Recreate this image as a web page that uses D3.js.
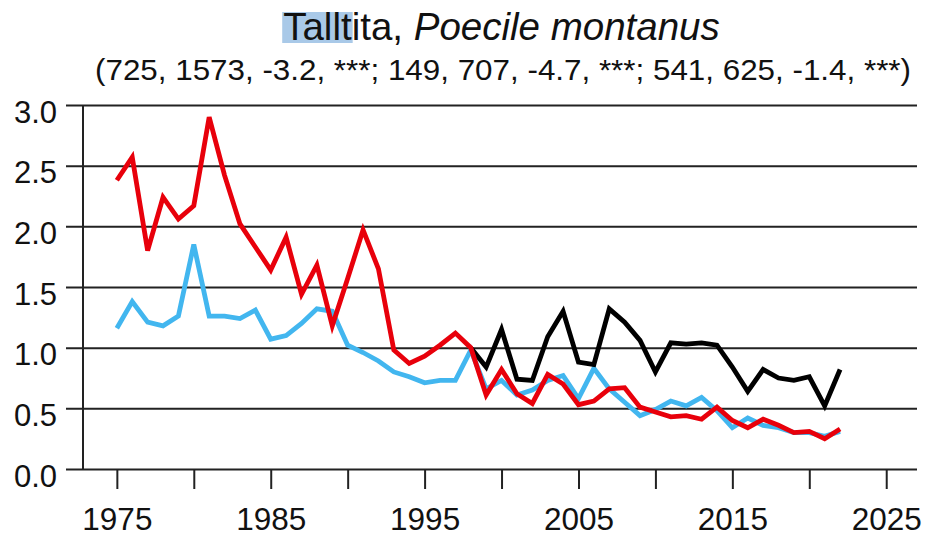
<!DOCTYPE html>
<html>
<head>
<meta charset="utf-8">
<script src="https://cdn.jsdelivr.net/npm/d3@7"></script>
<style>
  body { margin: 0; background: #fff; }
  svg { display: block; font-family: Arial, "Liberation Sans", sans-serif; }
</style>
</head>
<body>
<div id="chart"></div>
<script>
// series values
const years = d3.range(1975, 2023);
const blueValues = [1.16, 1.38, 1.21, 1.18, 1.26, 1.85, 1.26, 1.26, 1.24, 1.31, 1.07, 1.10, 1.20, 1.32, 1.30,
  1.02, 0.96, 0.89, 0.80, 0.76, 0.71, 0.73, 0.73, 0.98, 0.66, 0.73, 0.61, 0.65, 0.73, 0.77, 0.58, 0.83,
  0.66, 0.55, 0.44, 0.49, 0.56, 0.52, 0.59, 0.48, 0.34, 0.42, 0.36, 0.34, 0.30, 0.30, 0.27, 0.31];
const redValues = [2.38, 2.57, 1.80, 2.24, 2.06, 2.17, 2.90, 2.42, 2.02, 1.83, 1.64, 1.91, 1.44, 1.68, 1.18,
  1.57, 1.97, 1.65, 0.98, 0.87, 0.93, 1.02, 1.12, 1.00, 0.61, 0.82, 0.62, 0.54, 0.78, 0.70, 0.53, 0.56,
  0.66, 0.67, 0.51, 0.47, 0.43, 0.44, 0.41, 0.51, 0.40, 0.34, 0.41, 0.36, 0.30, 0.31, 0.25, 0.33];
const blackYears = d3.range(1998, 2023);
const blackValues = [1.00, 0.84, 1.15, 0.74, 0.73, 1.09, 1.30, 0.88, 0.86, 1.32, 1.21, 1.06, 0.80, 1.04,
  1.03, 1.04, 1.02, 0.84, 0.64, 0.82, 0.75, 0.73, 0.76, 0.52, 0.82];

const yTicks = [0, 0.5, 1, 1.5, 2, 2.5, 3];
const xTicks = d3.range(1975, 2030, 5);
const xLabelTicks = [1975, 1985, 1995, 2005, 2015, 2025];

const titleMain = 'Talltita, ';
const titleLatin = 'Poecile montanus';
const subtitle = '(725, 1573, -3.2, ***; 149, 707, -4.7, ***; 541, 625, -1.4, ***)';

const width = 926, height = 537;
const plotLeft = 83, plotRight = 917, plotTop = 105, plotBottom = 469;

const svg = d3.select('#chart').append('svg')
  .attr('width', width)
  .attr('height', height);

const x = d3.scaleLinear().domain([1972.8, 2027]).range([plotLeft, plotRight]);
const y = d3.scaleLinear().domain([0, 3]).range([plotBottom, plotTop]);

// gridlines + y axis (gridlines poke out left as ticks)
const yAxis = d3.axisLeft(y)
  .tickValues(yTicks)
  .tickSize(-(plotRight - plotLeft))
  .tickFormat(d3.format('.1f'));

const yg = svg.append('g')
  .attr('transform', `translate(${plotLeft},0)`)
  .call(yAxis);
yg.select('.domain').remove();
yg.selectAll('.tick line')
  .attr('x1', -17)
  .attr('stroke', '#222')
  .attr('stroke-width', 2);
yg.selectAll('.tick text')
  .attr('x', -26)
  .attr('dy', '0.55em')
  .attr('fill', '#111')
  .style('font-size', '31px');

svg.append('line')
  .attr('x1', plotLeft).attr('x2', plotLeft)
  .attr('y1', y(3)).attr('y2', y(0))
  .attr('stroke', '#222')
  .attr('stroke-width', 2);

// x axis
const xAxis = d3.axisBottom(x)
  .tickValues(xTicks)
  .tickSize(20)
  .tickPadding(19)
  .tickFormat(d => xLabelTicks.includes(d) ? d : '');

const xg = svg.append('g')
  .attr('transform', `translate(0,${plotBottom})`)
  .call(xAxis);
xg.select('.domain').remove();
xg.selectAll('.tick line')
  .attr('stroke', '#222')
  .attr('stroke-width', 2);
xg.selectAll('.tick text')
  .attr('fill', '#111')
  .style('font-size', '31.5px');

// lines
const line = d3.line()
  .x(d => x(d[0]))
  .y(d => y(d[1]));

const series = [
  {values: d3.zip(years, blueValues), color: '#42b6ef'},
  {values: d3.zip(blackYears, blackValues), color: '#000'},
  {values: d3.zip(years, redValues), color: '#e8000b'}
];

svg.append('g')
  .selectAll('path')
  .data(series)
  .join('path')
  .attr('d', d => line(d.values))
  .attr('fill', 'none')
  .attr('stroke', d => d.color)
  .attr('stroke-width', 4.8)
  .attr('stroke-linejoin', 'miter')
  .attr('stroke-linecap', 'butt');

// title
const hl = svg.append('rect').attr('fill', '#a9c9e8');
const title = svg.append('text')
  .attr('x', 501.5)
  .attr('y', 40)
  .attr('text-anchor', 'middle')
  .attr('fill', '#111')
  .style('font-size', '38.5px');
title.append('tspan').text(titleMain);
title.append('tspan').style('font-style', 'italic').text(titleLatin);

// selection highlight behind "Tallt"
const bb = title.node().getBBox();
const hlLen = title.node().getSubStringLength(0, 5);
hl.attr('x', bb.x - 1)
  .attr('y', 12)
  .attr('width', hlLen + 2)
  .attr('height', 31);

svg.append('text')
  .attr('x', 95)
  .attr('y', 80)
  .attr('fill', '#111')
  .attr('textLength', 816)
  .attr('lengthAdjust', 'spacingAndGlyphs')
  .style('font-size', '29px')
  .text(subtitle);
</script>
</body>
</html>
